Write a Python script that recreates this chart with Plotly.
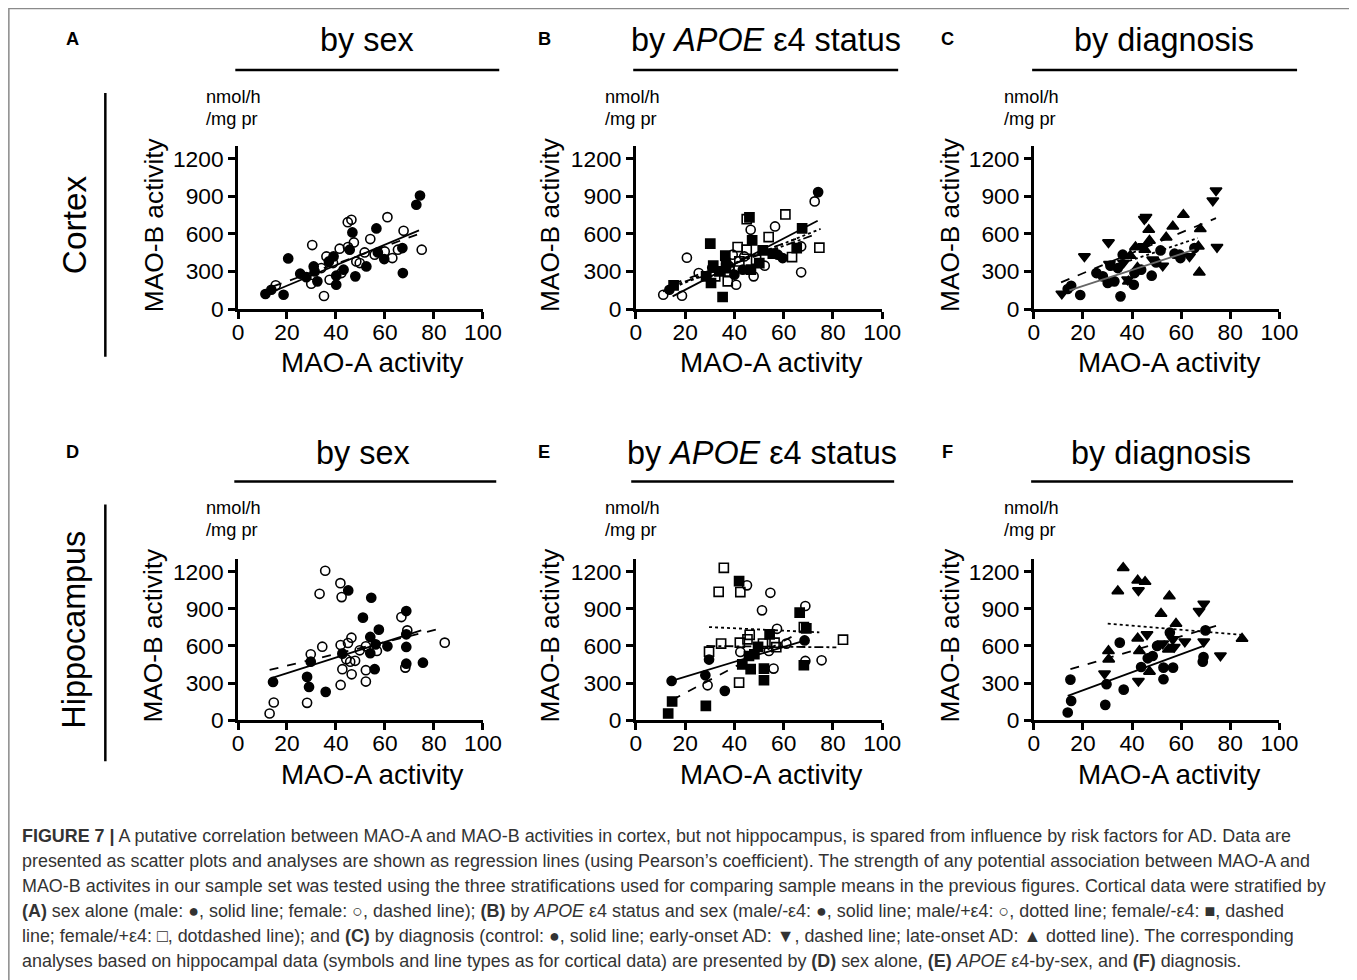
import plotly.graph_objects as go

W, H = 1357, 980
OFF = 8       # page body margin in the browser
S = 0.988     # observed page-to-picture scale
AX, BX = 0.99372, 4.79   # residual horizontal correction
LEFT_PAD = 3.4  # extra shift of left-anchored annotation text
FONT = "Liberation Sans, Arial, sans-serif"

# ---------------- DATA ----------------
x_ticks = [0, 20, 40, 60, 80, 100]
y_ticks = [0, 300, 600, 900, 1200]

# Panel A (cortex, by sex)
A_male_x = [11.2, 13.6, 18.6, 20.5, 25.4, 27.9, 30.9, 31.3, 32.4, 37.1, 39.0, 40.1, 40.1, 43.1, 45.6, 46.7, 47.9, 52.4, 56.5, 57.1, 59.7, 67.1, 67.3, 72.8, 74.3]
A_male_y = [120, 154, 114, 404, 282, 255, 340, 300, 221, 380, 420, 266, 194, 314, 474, 612, 261, 340, 644, 452, 399, 487, 287, 833, 907]
A_female_x = [15.4, 30.3, 29.9, 35.1, 36.1, 34.0, 37.4, 38.8, 41.5, 42.2, 44.9, 44.8, 46.3, 47.3, 48.3, 49.7, 51.7, 54.0, 55.8, 59.9, 61.0, 63.0, 65.3, 67.6, 75.0]
A_female_y = [189, 511, 202, 104, 420, 327, 234, 367, 482, 287, 495, 694, 713, 532, 380, 367, 452, 559, 434, 460, 734, 407, 474, 625, 474]
A_male_line_x, A_male_line_y = [12.9, 73.9], [128, 628]
A_female_line_x, A_female_line_y = [14.3, 74.1], [181, 601]

# Panel B (cortex, by APOE e4 status and sex)
B_mneg_x = [74.0, 40.0, 43.4, 57.6, 59.6, 36.6, 13.6, 31.0]
B_mneg_y = [934, 274, 314, 434, 407, 380, 154, 330]
B_mpos_x = [72.6, 46.6, 56.5, 67.1, 20.7, 39.3, 52.3, 25.5, 40.7, 47.8, 67.1, 11.1, 18.7, 38.0, 44.0]
B_mpos_y = [860, 633, 660, 500, 410, 434, 346, 287, 194, 261, 293, 114, 106, 340, 420]
B_fneg_x = [46.1, 67.5, 47.2, 30.2, 65.3, 51.5, 55.6, 36.3, 50.1, 31.4, 28.5, 30.5, 33.9, 36.6, 46.7, 35.2, 15.3]
B_fneg_y = [732, 644, 548, 522, 487, 468, 442, 426, 367, 346, 261, 208, 301, 327, 314, 96, 189]
B_fpos_x = [60.7, 45.0, 53.9, 41.3, 45.0, 74.5, 63.4, 48.8, 32.2, 37.3, 42.0, 38.0]
B_fpos_y = [756, 718, 575, 495, 474, 490, 415, 394, 261, 221, 380, 300]
B_mneg_line_x, B_mneg_line_y = [14.9, 73.8], [101, 705]
B_mpos_line_x, B_mpos_line_y = [11.0, 75.0], [140, 640]
B_fneg_line_x, B_fneg_line_y = [15.0, 65.0], [200, 560]
B_fpos_line_x, B_fpos_line_y = [13.0, 72.4], [170, 593]

# Panel C (cortex, by diagnosis)
C_ctrl_x = [65.4, 51.6, 57.3, 59.4, 59.7, 36.2, 49.8, 31.2, 34.2, 25.5, 28.1, 30.1, 32.8, 41.0, 40.7, 43.7, 48.0, 35.3, 15.2, 13.8, 18.9]
C_ctrl_y = [487, 468, 442, 434, 407, 434, 372, 346, 327, 287, 261, 208, 221, 287, 194, 314, 266, 101, 186, 160, 112]
C_eoad_x = [74.2, 72.9, 45.7, 45.0, 30.4, 44.8, 74.6, 63.4, 20.6, 48.4, 52.5, 30.8, 36.5, 38.2, 11.4]
C_eoad_y = [947, 867, 734, 718, 532, 500, 495, 420, 420, 394, 346, 360, 370, 235, 122]
C_load_x = [60.9, 46.8, 56.6, 67.8, 53.9, 47.1, 41.4, 45.2, 67.0, 39.3, 42.2, 38.5, 67.4]
C_load_y = [753, 633, 660, 639, 572, 546, 495, 474, 500, 426, 330, 221, 293]
C_ctrl_line_x, C_ctrl_line_y = [14.5, 65.4], [149, 474]
C_eoad_line_x, C_eoad_line_y = [11.1, 74.2], [213, 726]
C_load_line_x, C_load_line_y = [34.2, 66.8], [354, 567]

# Panel D (hippocampus, by sex)
D_male_x = [14.3, 28.2, 29.0, 29.7, 35.8, 42.6, 45.0, 51.0, 54.4, 54.0, 57.5, 54.0, 55.8, 56.2, 61.0, 68.7, 68.7, 68.7, 68.7, 75.5]
D_male_y = [309, 350, 269, 473, 229, 538, 1049, 829, 990, 673, 732, 541, 412, 613, 597, 882, 694, 592, 457, 465]
D_female_x = [12.9, 14.6, 28.2, 29.7, 34.4, 33.3, 35.6, 41.8, 42.3, 41.9, 42.6, 41.9, 46.3, 44.9, 44.2, 45.8, 47.8, 46.4, 49.7, 52.2, 52.2, 52.2, 56.7, 66.7, 69.1, 68.3, 84.4]
D_female_y = [54, 143, 140, 533, 594, 1022, 1208, 1108, 995, 608, 412, 285, 667, 624, 492, 473, 480, 371, 565, 597, 404, 312, 560, 834, 726, 425, 627]
D_male_line_x, D_male_line_y = [14.3, 74.8], [344, 726]
D_female_line_x, D_female_line_y = [12.9, 83.0], [406, 742]

# Panel E (hippocampus, by APOE e4 status and sex)
E_mneg_x = [14.5, 28.2, 29.7, 36.1, 68.5]
E_mneg_y = [317, 363, 490, 237, 645]
E_mpos_x = [29.1, 42.4, 45.1, 51.2, 54.6, 55.9, 57.3, 54.0, 61.1, 68.8, 68.8, 75.4]
E_mpos_y = [282, 552, 1090, 888, 1030, 417, 739, 560, 619, 923, 479, 484]
E_fneg_x = [13.1, 14.7, 28.4, 41.9, 45.9, 43.2, 46.6, 48.1, 49.6, 52.0, 52.0, 54.3, 66.5, 69.2, 68.2]
E_fneg_y = [54, 151, 116, 1124, 519, 452, 412, 533, 592, 417, 323, 694, 869, 742, 444]
E_fpos_x = [29.7, 33.6, 35.7, 34.6, 41.9, 42.2, 42.4, 45.3, 46.2, 51.6, 56.3, 57.0, 68.2, 84.1]
E_fpos_y = [554, 1038, 1232, 619, 304, 627, 1036, 654, 690, 619, 627, 590, 753, 651]
E_mneg_line_x, E_mneg_line_y = [14.5, 67.8], [317, 640]
E_mpos_line_x, E_mpos_line_y = [29.7, 74.5], [753, 710]
E_fneg_line_x, E_fneg_line_y = [14.7, 67.8], [164, 722]
E_fpos_line_x, E_fpos_line_y = [28.6, 81.4], [600, 589]

# Panel F (hippocampus, by diagnosis)
F_ctrl_x = [13.8, 15.2, 14.9, 29.1, 29.6, 35.0, 36.6, 43.7, 46.4, 48.4, 50.2, 52.8, 52.8, 55.4, 56.7, 69.9, 69.1, 68.8]
F_ctrl_y = [62, 156, 328, 124, 291, 627, 247, 430, 500, 519, 600, 331, 425, 708, 425, 726, 511, 473]
F_eoad_x = [28.8, 42.6, 42.6, 46.1, 52.5, 56.6, 57.2, 61.5, 67.3, 69.2, 69.2, 76.0]
F_eoad_y = [377, 1049, 317, 694, 619, 654, 592, 635, 882, 941, 635, 522]
F_load_x = [30.4, 30.5, 34.2, 36.4, 42.3, 45.3, 42.3, 43.0, 47.1, 51.8, 55.2, 54.8, 57.9, 84.8]
F_load_y = [560, 492, 1044, 1232, 1130, 1119, 662, 560, 393, 861, 1003, 573, 780, 659]
F_ctrl_line_x, F_ctrl_line_y = [13.8, 69.2], [196, 600]
F_eoad_line_x, F_eoad_line_y = [14.9, 74.2], [412, 762]
F_load_line_x, F_load_line_y = [30.1, 85.1], [780, 689]

panel_letters = ["A", "B", "C", "D", "E", "F"]
panel_titles = ["by sex", "by <i>APOE</i> ε4 status", "by diagnosis"]
row_labels = ["Cortex", "Hippocampus"]
unit_lines = ["nmol/h", "/mg pr"]
x_title = "MAO-A activity"
y_title = "MAO-B activity"

caption_lines = [
    "<b>FIGURE 7 |</b> A putative correlation between MAO-A and MAO-B activities in cortex, but not hippocampus, is spared from influence by risk factors for AD. Data are",
    "presented as scatter plots and analyses are shown as regression lines (using Pearson’s coefficient). The strength of any potential association between MAO-A and",
    "MAO-B activites in our sample set was tested using the three stratifications used for comparing sample means in the previous figures. Cortical data were stratified by",
    "<b>(A)</b> sex alone (male: ●, solid line; female: ○, dashed line); <b>(B)</b> by <i>APOE</i> ε4 status and sex (male/-ε4: ●, solid line; male/+ε4: ○, dotted line; female/-ε4: ■, dashed",
    "line; female/+ε4: □, dotdashed line); and <b>(C)</b> by diagnosis (control: ●, solid line; early-onset AD: ▼, dashed line; late-onset AD: ▲ dotted line). The corresponding",
    "analyses based on hippocampal data (symbols and line types as for cortical data) are presented by <b>(D)</b> sex alone, <b>(E)</b> <i>APOE</i> ε4-by-sex, and <b>(F)</b> diagnosis.",
]

# ---------------- LAYOUT HELPERS (picture pixel -> paper fraction) ----------------
def fx(px):
    px = (px - BX) / AX
    return (px / S - OFF) / W

def fy(py):
    return 1 - (py / S - OFF) / H

def sz(v):
    return v / S

col_px = [(236.7, 481.7), (634.7, 881.0), (1032.7, 1278.3)]
row_px = [(309.3, 146.4), (721.0, 560.0)]  # (y of 0, y of 1300)

fig = go.Figure()

def add_points(idx, xs, ys, symbol, size=9, lw=1.6):
    ax = "" if idx == 1 else str(idx)
    fig.add_trace(go.Scatter(
        x=xs, y=ys, mode="markers", xaxis="x" + ax, yaxis="y" + ax,
        marker=dict(symbol=symbol, size=sz(size), color="black",
                    line=dict(color="black", width=lw)),
        showlegend=False, cliponaxis=False, hoverinfo="skip"))

def add_line(idx, xs, ys, dash, color="black", width=1.8):
    ax = "" if idx == 1 else str(idx)
    fig.add_trace(go.Scatter(
        x=xs, y=ys, mode="lines", xaxis="x" + ax, yaxis="y" + ax,
        line=dict(color=color, width=width, dash=dash),
        showlegend=False, hoverinfo="skip"))

# Panel A
add_points(1, A_female_x, A_female_y, "circle-open")
add_points(1, A_male_x, A_male_y, "circle")
add_line(1, A_male_line_x, A_male_line_y, "solid")
add_line(1, A_female_line_x, A_female_line_y, "dash")
# Panel B
add_points(2, B_mpos_x, B_mpos_y, "circle-open")
add_points(2, B_fpos_x, B_fpos_y, "square-open")
add_points(2, B_fneg_x, B_fneg_y, "square")
add_points(2, B_mneg_x, B_mneg_y, "circle")
add_line(2, B_mneg_line_x, B_mneg_line_y, "solid")
add_line(2, B_mpos_line_x, B_mpos_line_y, "dot")
add_line(2, B_fneg_line_x, B_fneg_line_y, "dash")
add_line(2, B_fpos_line_x, B_fpos_line_y, "dashdot")
# Panel C
add_points(3, C_ctrl_x, C_ctrl_y, "circle")
add_points(3, C_eoad_x, C_eoad_y, "triangle-down", size=10)
add_points(3, C_load_x, C_load_y, "triangle-up", size=10)
add_line(3, C_ctrl_line_x, C_ctrl_line_y, "solid", color="#666666")
add_line(3, C_eoad_line_x, C_eoad_line_y, "dash")
add_line(3, C_load_line_x, C_load_line_y, "dot")
# Panel D
add_points(4, D_female_x, D_female_y, "circle-open")
add_points(4, D_male_x, D_male_y, "circle")
add_line(4, D_male_line_x, D_male_line_y, "solid")
add_line(4, D_female_line_x, D_female_line_y, "dash")
# Panel E
add_points(5, E_mpos_x, E_mpos_y, "circle-open")
add_points(5, E_fpos_x, E_fpos_y, "square-open")
add_points(5, E_fneg_x, E_fneg_y, "square")
add_points(5, E_mneg_x, E_mneg_y, "circle")
add_line(5, E_mneg_line_x, E_mneg_line_y, "solid")
add_line(5, E_mpos_line_x, E_mpos_line_y, "dot")
add_line(5, E_fneg_line_x, E_fneg_line_y, "dash")
add_line(5, E_fpos_line_x, E_fpos_line_y, "dashdot")
# Panel F
add_points(6, F_ctrl_x, F_ctrl_y, "circle")
add_points(6, F_eoad_x, F_eoad_y, "triangle-down", size=10)
add_points(6, F_load_x, F_load_y, "triangle-up", size=10)
add_line(6, F_ctrl_line_x, F_ctrl_line_y, "solid")
add_line(6, F_eoad_line_x, F_eoad_line_y, "dash")
add_line(6, F_load_line_x, F_load_line_y, "dot")

layout = dict(
    width=W, height=H, margin=dict(l=0, r=0, t=0, b=0),
    paper_bgcolor="white", plot_bgcolor="white",
    font=dict(family=FONT, color="black"),
    showlegend=False,
)
axis_common = dict(showgrid=False, zeroline=False, showline=True, linecolor="black",
                   linewidth=2.5, ticks="outside", ticklen=sz(7), tickwidth=2.5,
                   tickcolor="black", tickfont=dict(family=FONT, size=sz(22.5), color="black"),
                   fixedrange=True)
for i in range(6):
    r, c = divmod(i, 3)
    n = "" if i == 0 else str(i + 1)
    x0, x1 = col_px[c]
    yb, yt = row_px[r]
    layout["xaxis" + n] = dict(axis_common, domain=[fx(x0), fx(x1)], range=[0, 100],
                               tickvals=x_ticks, anchor="y" + n, ticklabelstandoff=-6)
    layout["yaxis" + n] = dict(axis_common, domain=[fy(yb), fy(yt)], range=[0, 1300],
                               tickvals=y_ticks, anchor="x" + n)
fig.update_layout(**layout)

annotations = []
shapes = []

def ann(text, x, y, size, angle=0, xanchor="center", color="black", family=FONT):
    if xanchor == "left":
        x = x - LEFT_PAD
    annotations.append(dict(text=text, x=fx(x), y=fy(y), xref="paper", yref="paper",
                            showarrow=False, xanchor=xanchor, yanchor="middle",
                            textangle=angle, font=dict(family=family, size=sz(size), color=color)))

def hline(x0, x1, y, w=2.5, color="black"):
    shapes.append(dict(type="line", xref="paper", yref="paper", x0=fx(x0), x1=fx(x1),
                       y0=fy(y), y1=fy(y), line=dict(color=color, width=w)))

def vline(x, y0, y1, w=2.5, color="black"):
    shapes.append(dict(type="line", xref="paper", yref="paper", x0=fx(x), x1=fx(x),
                       y0=fy(y0), y1=fy(y1), line=dict(color=color, width=w)))

letter_x = [71, 543, 946]
title_cx = [[366, 765, 1163], [362, 761, 1160]]
title_line = [[(234, 498), (632, 897), (1031, 1296)], [(233, 495), (630, 893), (1030, 1292)]]
row_title_y = [40, 453]
row_line_y = [70, 482]
unit_x = [206, 605, 1004]
unit_y = [[97, 119], [509, 531]]
ylab_x = [152, 549, 949]
ylab_y = [225, 636]
xlab_cx = [371, 770, 1168]
xlab_y = [363, 775]

for r in range(2):
    for c in range(3):
        ann("<b>" + panel_letters[r * 3 + c] + "</b>", letter_x[c], row_title_y[r] - 1, 18, xanchor="center")
        ann(panel_titles[c], title_cx[r][c], row_title_y[r], 32)
        hline(title_line[r][c][0], title_line[r][c][1], row_line_y[r])
        ann(unit_lines[0], unit_x[c], unit_y[r][0], 18, xanchor="left")
        ann(unit_lines[1], unit_x[c], unit_y[r][1], 18, xanchor="left")
        ann(y_title, ylab_x[c], ylab_y[r], 26, angle=-90)
        ann(x_title, xlab_cx[c], xlab_y[r], 27.5)

ann(row_labels[0], 73, 225, 33, angle=-90)
ann(row_labels[1], 73, 630, 32, angle=-90)
vline(104, 93, 357)
vline(104, 505, 762)

cap_y0 = 836.7
for k, line in enumerate(caption_lines):
    ann(line, 22, cap_y0 + 25 * k, 17.7, xanchor="left", color="#333333")

shapes.append(dict(type="rect", xref="paper", yref="paper", x0=fx(7.5), x1=fx(1350.5),
                   y0=fy(1000), y1=fy(8.5), line=dict(color="#8a8a8a", width=1.5)))

fig.update_layout(annotations=annotations, shapes=shapes)
fig.write_html("out.html")
